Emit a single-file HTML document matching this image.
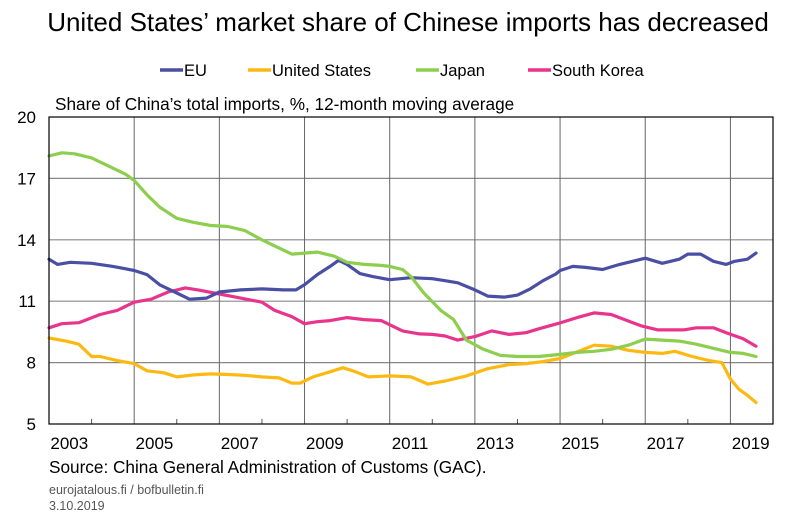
<!DOCTYPE html>
<html><head><meta charset="utf-8"><style>
body{margin:0;background:#fff;font-family:"Liberation Sans",sans-serif}
svg text{font-family:"Liberation Sans",sans-serif}
</style></head><body>
<svg id="c" width="801" height="523" xmlns="http://www.w3.org/2000/svg">
<text x="408" y="31" font-size="26" text-anchor="middle" fill="#000">United States’ market share of Chinese imports has decreased</text>
<g id="legend"></g>
<text x="55" y="110" font-size="17.2" fill="#000">Share of China’s total imports, %, 12-month moving average</text>
<g id="grid"></g>
<g id="series"></g>
<rect x="49" y="117" width="724" height="307" fill="none" stroke="#000" stroke-width="1.2"/>
<g id="axes"></g>
<text x="49" y="473" font-size="17.2" fill="#000">Source: China General Administration of Customs (GAC).</text>
<text x="49" y="494" font-size="12.5" fill="#555">eurojatalous.fi / bofbulletin.fi</text>
<text x="49" y="510" font-size="12.5" fill="#555">3.10.2019</text>
</svg>
<script>
const yTicks=[5,8,11,14,17,20];
const yearLabels=[2003,2005,2007,2009,2011,2013,2015,2017,2019];
const seriesNames=["EU","United States","Japan","South Korea"];
const seriesColors=["#4a4fa3","#fdb913","#8dce4f","#e8348c"];
const euT=[2003.0,2003.2,2003.5,2004.0,2004.5,2005.0,2005.3,2005.6,2006.0,2006.3,2006.7,2007.0,2007.5,2008.0,2008.5,2008.8,2009.0,2009.3,2009.6,2009.8,2010.0,2010.3,2010.6,2011.0,2011.5,2012.0,2012.3,2012.6,2013.0,2013.3,2013.7,2014.0,2014.3,2014.6,2014.9,2015.0,2015.3,2015.6,2016.0,2016.4,2016.8,2017.0,2017.4,2017.8,2018.0,2018.3,2018.6,2018.9,2019.1,2019.4,2019.6];
const euV=[13.05,12.8,12.9,12.85,12.7,12.5,12.3,11.8,11.4,11.1,11.15,11.45,11.55,11.6,11.55,11.55,11.8,12.3,12.7,13.0,12.8,12.35,12.2,12.05,12.15,12.1,12.0,11.9,11.55,11.25,11.2,11.3,11.6,12.0,12.33,12.5,12.7,12.65,12.55,12.8,13.0,13.1,12.85,13.05,13.3,13.3,12.95,12.8,12.95,13.05,13.35];
const usT=[2003.0,2003.4,2003.7,2004.0,2004.2,2004.6,2005.0,2005.3,2005.7,2006.0,2006.4,2006.8,2007.2,2007.6,2008.0,2008.4,2008.7,2008.9,2009.2,2009.6,2009.9,2010.2,2010.5,2011.0,2011.5,2011.9,2012.3,2012.8,2013.3,2013.8,2014.2,2014.6,2015.0,2015.5,2015.8,2016.2,2016.6,2017.0,2017.4,2017.7,2018.1,2018.5,2018.8,2019.0,2019.2,2019.4,2019.6];
const usV=[9.2,9.05,8.9,8.3,8.3,8.1,7.95,7.6,7.5,7.3,7.4,7.45,7.42,7.38,7.3,7.25,7.0,7.0,7.3,7.55,7.75,7.55,7.3,7.35,7.3,6.95,7.1,7.35,7.7,7.9,7.95,8.05,8.2,8.6,8.85,8.8,8.6,8.5,8.45,8.55,8.3,8.1,8.0,7.2,6.7,6.4,6.05];
const jpT=[2003.0,2003.3,2003.6,2004.0,2004.4,2004.8,2005.0,2005.3,2005.6,2006.0,2006.4,2006.8,2007.2,2007.6,2008.0,2008.4,2008.7,2009.0,2009.3,2009.7,2010.0,2010.4,2010.8,2011.0,2011.3,2011.5,2011.8,2012.2,2012.5,2012.8,2013.2,2013.6,2014.0,2014.5,2015.0,2015.4,2015.8,2016.2,2016.6,2017.0,2017.4,2017.8,2018.2,2018.6,2019.0,2019.3,2019.6];
const jpV=[18.1,18.25,18.2,18.0,17.6,17.2,16.9,16.2,15.6,15.05,14.85,14.7,14.65,14.45,14.0,13.6,13.3,13.35,13.4,13.2,12.9,12.8,12.75,12.7,12.55,12.2,11.4,10.55,10.1,9.1,8.65,8.35,8.3,8.3,8.4,8.5,8.55,8.65,8.85,9.15,9.1,9.05,8.9,8.7,8.5,8.45,8.3];
const krT=[2003.0,2003.3,2003.7,2004.2,2004.6,2005.0,2005.4,2005.8,2006.2,2006.5,2007.0,2007.5,2008.0,2008.3,2008.7,2009.0,2009.3,2009.6,2010.0,2010.4,2010.8,2011.3,2011.7,2012.0,2012.3,2012.6,2013.0,2013.4,2013.8,2014.2,2014.5,2015.0,2015.4,2015.8,2016.2,2016.9,2017.3,2017.9,2018.2,2018.6,2018.9,2019.3,2019.6];
const krV=[9.7,9.9,9.95,10.35,10.55,10.95,11.1,11.45,11.65,11.55,11.35,11.15,10.95,10.55,10.25,9.9,10.0,10.05,10.2,10.1,10.05,9.55,9.4,9.38,9.3,9.1,9.27,9.55,9.38,9.46,9.65,9.94,10.2,10.43,10.35,9.8,9.6,9.6,9.7,9.7,9.46,9.17,8.8];
const NS="http://www.w3.org/2000/svg";
const X0=49,X1=773,Y0=117,Y1=424;
const xs=t=>X0+(t-2003)*(X1-X0)/17;
const ys=v=>Y1-(v-5)*(Y1-Y0)/15;
function mk(tag,attrs,parent){const e=document.createElementNS(NS,tag);for(const k in attrs)e.setAttribute(k,attrs[k]);parent.appendChild(e);return e;}
const grid=document.getElementById('grid'),axes=document.getElementById('axes'),ser=document.getElementById('series'),leg=document.getElementById('legend');
yTicks.forEach(v=>{
  if(v>5&&v<20){const l=mk('line',{x1:X0,x2:X1,y1:ys(v),y2:ys(v),stroke:'#888','stroke-width':1.2},grid);
  
  }
  const t=mk('text',{x:36,y:ys(v)+6,'font-size':17,'text-anchor':'end',fill:'#000'},axes);t.textContent=v;
  
  
});
for(let yr=2003;yr<=2019;yr++){
  const x=xs(yr);
  if(yr>2003){
    if((yr-2003)%2===0){const l=mk('line',{x1:x,x2:x,y1:Y0,y2:Y1,stroke:'#666','stroke-width':1},grid);
    
    }
    else{const l=mk('line',{x1:x,x2:x,y1:Y1-5,y2:Y1,stroke:'#555','stroke-width':1},grid);
    
    }
  }
}
yearLabels.forEach(yr=>{
  const t=mk('text',{x:xs(yr+0.5)-1,y:449,'font-size':17,'text-anchor':'middle',fill:'#000'},axes);t.textContent=yr;
  
  
});
const allT=[euT,usT,jpT,krT],allV=[euV,usV,jpV,krV],order=[1,3,0,2];
const keys=['eu','united-states','japan','south-korea'];
order.forEach(i=>{
  const d=allT[i].map((t,j)=>(j?'L':'M')+xs(t).toFixed(1)+' '+ys(allV[i][j]).toFixed(1)).join(' ');
  const p=mk('path',{d:d,fill:'none',stroke:seriesColors[i],'stroke-width':3.2,'stroke-linejoin':'round','stroke-linecap':'round'},ser);
  
  
});
const legX=[160,248,416,528];
seriesNames.forEach((n,i)=>{
  const g=mk('g',{},leg);
  
  
  mk('line',{x1:legX[i],x2:legX[i]+23,y1:70,y2:70,stroke:seriesColors[i],'stroke-width':3.5},g);
  const t=mk('text',{x:legX[i]+24,y:76,'font-size':16.5,fill:'#000'},g);t.textContent=n;
});
</script>
</body></html>
